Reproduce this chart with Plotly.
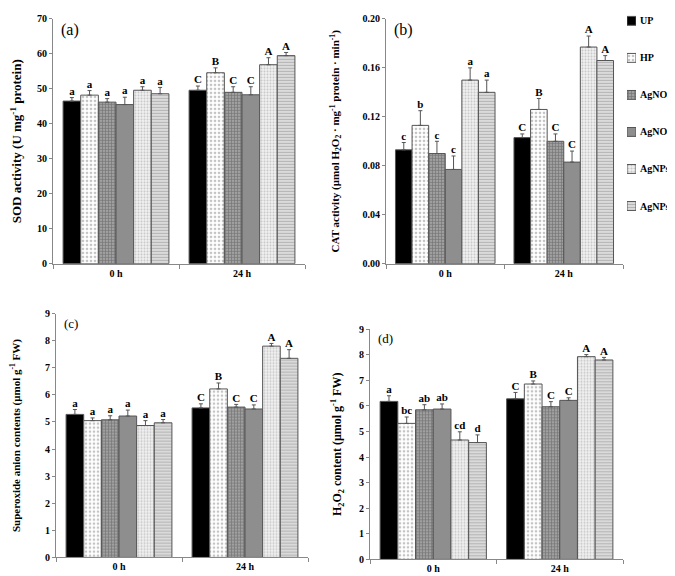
import plotly.graph_objects as go

# Data
groups = ["0 h", "24 h"]
series = ["UP", "HP", "AgNO<sub>3</sub>10", "AgNO<sub>3</sub>20", "AgNPs10", "AgNPs20"]

sod_0h = [46.5, 48.2, 46.2, 45.5, 49.6, 48.6]
sod_24h = [49.6, 54.6, 49.0, 48.3, 56.9, 59.5]
sod_err_0h = [1.0, 1.3, 1.0, 2.1, 1.0, 1.8]
sod_err_24h = [1.2, 1.4, 1.6, 2.3, 2.0, 0.9]
sod_let_0h = ["a", "a", "a", "a", "a", "a"]
sod_let_24h = ["C", "B", "C", "C", "A", "A"]

cat_0h = [0.093, 0.113, 0.090, 0.077, 0.150, 0.140]
cat_24h = [0.103, 0.126, 0.100, 0.083, 0.177, 0.166]
cat_err_0h = [0.006, 0.012, 0.010, 0.011, 0.010, 0.010]
cat_err_24h = [0.003, 0.009, 0.006, 0.009, 0.009, 0.004]
cat_let_0h = ["c", "b", "c", "c", "a", "a"]
cat_let_24h = ["C", "B", "C", "C", "A", "A"]

sup_0h = [5.28, 5.05, 5.08, 5.22, 4.87, 4.97]
sup_24h = [5.52, 6.22, 5.55, 5.48, 7.80, 7.35]
sup_err_0h = [0.18, 0.10, 0.15, 0.22, 0.18, 0.12]
sup_err_24h = [0.15, 0.22, 0.10, 0.15, 0.10, 0.32]
sup_let_0h = ["a", "a", "a", "a", "a", "a"]
sup_let_24h = ["C", "B", "C", "C", "A", "A"]

h2o2_0h = [6.18, 5.32, 5.85, 5.88, 4.67, 4.57]
h2o2_24h = [6.28, 6.86, 5.97, 6.22, 7.93, 7.80]
h2o2_err_0h = [0.22, 0.25, 0.20, 0.20, 0.32, 0.30]
h2o2_err_24h = [0.25, 0.12, 0.20, 0.10, 0.08, 0.10]
h2o2_let_0h = ["a", "bc", "ab", "ab", "cd", "d"]
h2o2_let_24h = ["C", "B", "C", "C", "A", "A"]

# Style
FONT = "Liberation Serif, Times New Roman, serif"
BAR_STYLES = [
    dict(color="black"),
    dict(color="white", pattern=dict(shape=".", fgcolor="#8a8a8a", bgcolor="white", size=4, solidity=0.35)),
    dict(color="#9a9a9a", pattern=dict(shape="+", fgcolor="#4a4a4a", bgcolor="#a0a0a0", size=3, solidity=0.4)),
    dict(color="#8e8e8e"),
    dict(color="#eeeeee", pattern=dict(shape=".", fgcolor="#9a9a9a", bgcolor="#f2f2f2", size=3, solidity=0.4)),
    dict(color="#d0d0d0", pattern=dict(shape="-", fgcolor="#8a8a8a", bgcolor="#dedede", size=3, solidity=0.4)),
]
GROUP_WIDTH = 0.84
BAR_W = GROUP_WIDTH / len(series)


def bold(size):
    return dict(family=FONT, size=size, color="black", weight="bold")


YAXIS_FMT = dict(
    showline=True, linecolor="#888", linewidth=1, ticks="outside", ticklen=3,
    tickcolor="#888", showgrid=False, zeroline=False, tickfont=bold(10),
)
XAXIS_FMT = dict(
    showline=True, linecolor="#888", linewidth=1, showgrid=False, zeroline=False,
    range=[-0.5, 1.5], tickvals=[0, 1], ticktext=groups, ticks="", tickfont=bold(10),
    minor=dict(tickvals=[-0.5, 0.5, 1.5], ticks="outside", ticklen=4, tickcolor="#888"),
)

panels = [
    # (suffix, values 0h, 24h, err 0h, err 24h, letters 0h, 24h, yrange, dtick, fmt,
    #  title, title size, title standoff, label, x domain, y domain)
    ("", sod_0h, sod_24h, sod_err_0h, sod_err_24h, sod_let_0h, sod_let_24h, [0, 70], 10, "d",
     "SOD activity (U mg<sup>-1</sup> protein)", 13, 15, "(a)",
     [45 / 675, 297 / 675], [1 - 255 / 576, 1 - 5 / 576]),
    ("2", cat_0h, cat_24h, cat_err_0h, cat_err_24h, cat_let_0h, cat_let_24h, [0, 0.2], 0.04, ".2f",
     "CAT activity (μmol H<sub>2</sub>O<sub>2</sub> · mg<sup>-1</sup> protein · min<sup>-1</sup>)", 11, 20, "(b)",
     [378 / 675, 615 / 675], [1 - 255 / 576, 1 - 5 / 576]),
    ("3", sup_0h, sup_24h, sup_err_0h, sup_err_24h, sup_let_0h, sup_let_24h, [0, 9], 1, "d",
     "Superoxide anion contents (μmol g<sup>-1</sup> FW)", 11, 26, "(c)",
     [48 / 675, 300 / 675], [1 - 555 / 576, 1 - 306 / 576]),
    ("4", h2o2_0h, h2o2_24h, h2o2_err_0h, h2o2_err_24h, h2o2_let_0h, h2o2_let_24h, [0, 9], 1, "d",
     "H<sub>2</sub>O<sub>2</sub> content (μmol g<sup>-1</sup> FW)", 12, 14, "(d)",
     [362 / 675, 615 / 675], [1 - 557 / 576, 1 - 322 / 576]),
]

fig = go.Figure()
layout = {}
annotations = []

for p, (sfx, v0, v1, e0, e1, l0, l1, yr, dt, fmt, title, tsize, tgap, label, xd, yd) in enumerate(panels):
    xa, ya = "x" + sfx, "y" + sfx
    for i, name in enumerate(series):
        off = (i - (len(series) - 1) / 2) * BAR_W
        xs = [0 + off, 1 + off]
        ys = [v0[i], v1[i]]
        errs = [e0[i], e1[i]]
        fig.add_trace(go.Bar(
            x=xs, y=ys, width=BAR_W, name=name, xaxis=xa, yaxis=ya,
            marker=dict(**BAR_STYLES[i], line=dict(color="#555", width=1)),
            error_y=dict(type="data", array=errs, arrayminus=[0, 0], symmetric=False,
                         color="#555", thickness=1, width=2),
            showlegend=False,
        ))
        fig.add_trace(go.Scatter(
            x=xs, y=[ys[k] + errs[k] for k in range(2)], mode="text",
            text=[l0[i], l1[i]], textposition="top center", textfont=bold(11),
            xaxis=xa, yaxis=ya, showlegend=False, hoverinfo="skip",
        ))
    layout["xaxis" + sfx] = dict(XAXIS_FMT, domain=xd, anchor=ya)
    layout["yaxis" + sfx] = dict(
        YAXIS_FMT, domain=yd, anchor=xa, range=yr, dtick=dt, tickformat=fmt,
        title=dict(text=title, font=bold(tsize), standoff=tgap),
    )
    annotations.append(dict(
        text=label, xref=xa + " domain", yref=ya + " domain", x=0.025, y=1.0,
        xanchor="left", yanchor="top", showarrow=False,
        font=dict(family=FONT, size=16 if p < 2 else 13, color="black"),
    ))

# Legend: a small key axis at the top right, one patterned swatch per series,
# with the series names as its tick labels (the built-in legend clipped the names)
legend_pos = list(range(len(series)))
for i, name in enumerate(series):
    fig.add_trace(go.Bar(
        x=[1], y=[legend_pos[i]], orientation="h", width=0.24, name=name,
        xaxis="x5", yaxis="y5", showlegend=False, hoverinfo="skip",
        marker=dict(**BAR_STYLES[i], line=dict(color="#555", width=1)),
    ))
layout["xaxis5"] = dict(
    domain=[619 / 675, 628 / 675], anchor="y5", range=[0, 1],
    visible=False, fixedrange=True,
)
layout["yaxis5"] = dict(
    domain=[1 - 215 / 576, 1.0], anchor="x5", side="right",
    range=[5.50, -0.185], tickvals=legend_pos, ticktext=series,
    showline=False, showgrid=False, zeroline=False, ticks="",
    ticklabelstandoff=3, tickfont=bold(10), fixedrange=True,
)

fig.update_layout(
    **layout,
    annotations=annotations,
    width=675, height=576,
    margin=dict(l=0, r=0, t=0, b=0),
    paper_bgcolor="white", plot_bgcolor="white",
    barmode="overlay",
    showlegend=False,
    font=dict(family=FONT, color="black"),
)

fig.write_html("out.html")
